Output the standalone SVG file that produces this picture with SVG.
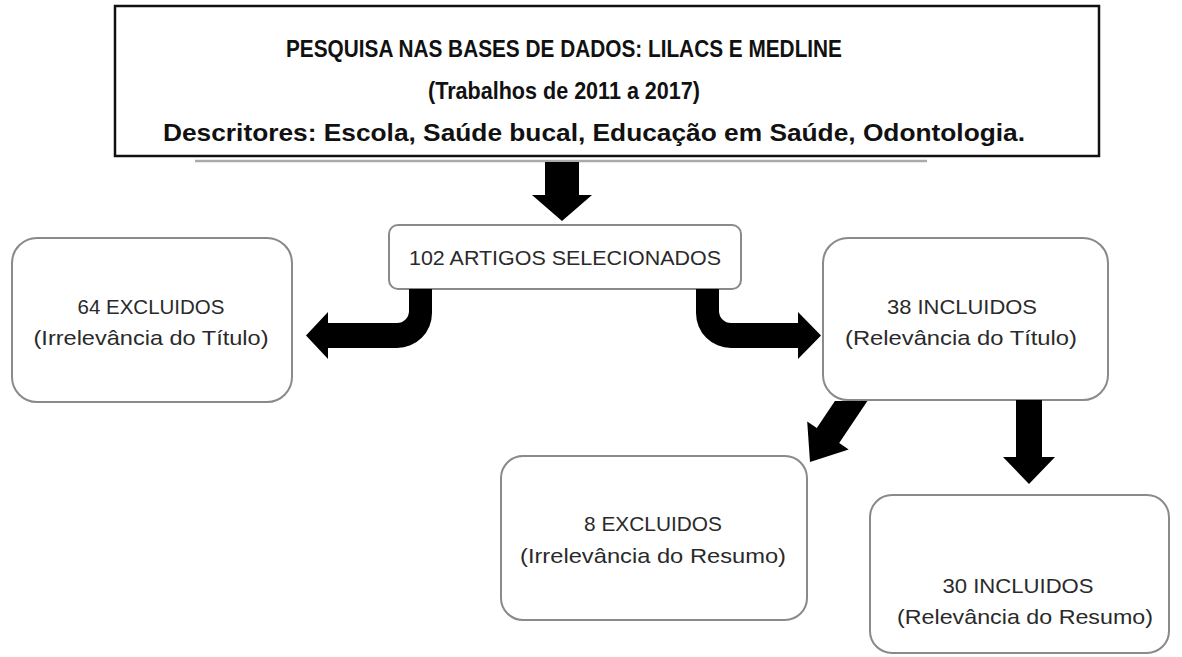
<svg xmlns="http://www.w3.org/2000/svg" width="1182" height="657" viewBox="0 0 1182 657">
<style>
.box{fill:#fff;stroke:#8a8a8a;stroke-width:2}
.t{font-family:"Liberation Sans",Arial,sans-serif;font-size:21px;fill:#2a2a2a;text-anchor:middle}
.h{font-family:"Liberation Sans",Arial,sans-serif;font-size:24px;font-weight:bold;fill:#111;text-anchor:middle}
.arr{fill:#000}
</style>
<rect width="1182" height="657" fill="#fff"/>
<g id="search">
<rect x="115" y="6" width="984" height="150" fill="#fff" stroke="#111" stroke-width="2.5"/>
<line x1="195" y1="161" x2="927" y2="161" stroke="#aaa" stroke-width="2.5"/>
<text class="h" x="564" y="57" textLength="556" lengthAdjust="spacingAndGlyphs">PESQUISA NAS BASES DE DADOS: LILACS E MEDLINE</text>
<text class="h" x="564" y="99" textLength="272" lengthAdjust="spacingAndGlyphs">(Trabalhos de 2011 a 2017)</text>
<text class="h" x="594" y="141" textLength="862" lengthAdjust="spacingAndGlyphs">Descritores: Escola, Saúde bucal, Educação em Saúde, Odontologia.</text>
</g>
<g id="selected">
<rect class="box" x="389" y="225" width="352" height="64" rx="9"/>
<text class="t" x="565" y="265" textLength="312" lengthAdjust="spacingAndGlyphs">102 ARTIGOS SELECIONADOS</text>
</g>
<g id="excl64">
<rect class="box" x="12" y="238" width="280" height="164" rx="25"/>
<text class="t" x="151" y="314" textLength="147" lengthAdjust="spacingAndGlyphs">64 EXCLUIDOS</text>
<text class="t" x="151" y="345" textLength="235" lengthAdjust="spacingAndGlyphs">(Irrelevância do Título)</text>
</g>
<g id="incl38">
<rect class="box" x="823" y="238" width="285" height="162" rx="25"/>
<text class="t" x="962" y="314" textLength="150" lengthAdjust="spacingAndGlyphs">38 INCLUIDOS</text>
<text class="t" x="961" y="345" textLength="232" lengthAdjust="spacingAndGlyphs">(Relevância do Título)</text>
</g>
<g id="excl8">
<rect class="box" x="501" y="456" width="306" height="164" rx="22"/>
<text class="t" x="653" y="531" textLength="138" lengthAdjust="spacingAndGlyphs">8 EXCLUIDOS</text>
<text class="t" x="653" y="563" textLength="266" lengthAdjust="spacingAndGlyphs">(Irrelevância do Resumo)</text>
</g>
<g id="incl30">
<rect class="box" x="870" y="495" width="299" height="158" rx="22"/>
<text class="t" x="1018" y="593" textLength="151" lengthAdjust="spacingAndGlyphs">30 INCLUIDOS</text>
<text class="t" x="1025" y="624" textLength="256" lengthAdjust="spacingAndGlyphs">(Relevância do Resumo)</text>
</g>
<g id="connectors">
<polygon class="arr" points="545,162 579,162 579,195 592,195 562,221 532,195 545,195"/>
<path class="arr" d="M409,289 L432,289 L432,313 A35,35 0 0 1 397,348 L328,348 L328,359 L306,335.5 L328,312 L328,323 L397,323 A12,12 0 0 0 409,311 Z"/>
<path class="arr" d="M719,289 L696,289 L696,313 A35,35 0 0 0 731,348 L798,348 L798,359 L821,335.5 L798,312 L798,323 L731,323 A12,12 0 0 1 719,311 Z"/>
<polygon class="arr" points="834.9,401 867.4,401 839.2,442.9 848.7,449.4 810,462 807.2,421.4 816.8,427.9"/>
<polygon class="arr" points="1016,400 1042,400 1042,457 1055,457 1029,484 1003,457 1016,457"/>
</g>
</svg>
